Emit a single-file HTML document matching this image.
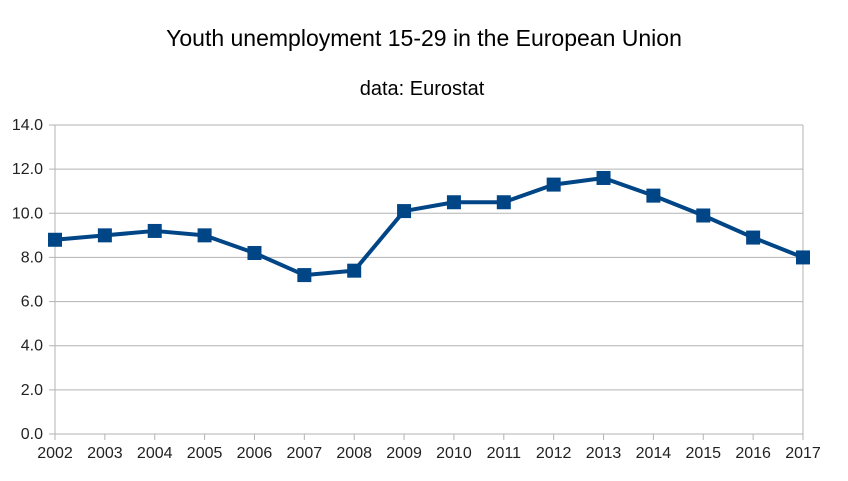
<!DOCTYPE html>
<html><head><meta charset="utf-8"><style>
body{margin:0;background:#fff;}
svg text{font-family:"Liberation Sans",sans-serif;fill:#000;}
.tk{font-family:"Liberation Sans Narrow","Liberation Sans",sans-serif;font-size:16px;fill:#222;}
</style></head><body>
<svg id="chart" width="848" height="476" xmlns="http://www.w3.org/2000/svg">
<text x="424" y="46" text-anchor="middle" font-size="23">Youth unemployment 15-29 in the European Union</text>
<text x="422" y="95" text-anchor="middle" font-size="20">data: Eurostat</text>
<g id="grid"></g><g id="series"></g>
</svg>
<script>
const years=["2002","2003","2004","2005","2006","2007","2008","2009","2010","2011","2012","2013","2014","2015","2016","2017"];
const values=[8.8,9.0,9.2,9.0,8.2,7.2,7.4,10.1,10.5,10.5,11.3,11.6,10.8,9.9,8.9,8.0];
const yTicks=[0,2,4,6,8,10,12,14];
const NS="http://www.w3.org/2000/svg";
const L=55,R=803,T=125,B=434;
const x=i=>L+(R-L)*i/(years.length-1);
const y=v=>B-(B-T)*v/14;
const grid=document.getElementById('grid'),ser=document.getElementById('series');
function mk(tag,attrs,parent){const e=document.createElementNS(NS,tag);for(const k in attrs)e.setAttribute(k,attrs[k]);parent.appendChild(e);return e;}
yTicks.forEach(v=>{
  const g=mk('line',{x1:L-6,x2:R,y1:y(v),y2:y(v),stroke:'#b3b3b3','stroke-width':1},grid);
  
  
  const t=mk('text',{x:L-12,y:y(v)+5,'text-anchor':'end',class:'tk'},grid);
  t.textContent=v.toFixed(1);
  
  
});
const ax=mk('line',{x1:L,x2:L,y1:T,y2:B+6,stroke:'#b3b3b3'},grid);


const ax2=mk('line',{x1:R,x2:R,y1:T,y2:B,stroke:'#b3b3b3'},grid);


years.forEach((yr,i)=>{
  if(i>0){const tk=mk('line',{x1:x(i),x2:x(i),y1:B,y2:B+6,stroke:'#b3b3b3'},grid);
  
  }
  const t=mk('text',{x:x(i),y:B+24,'text-anchor':'middle',class:'tk'},grid);
  t.textContent=yr;
  
  
});
const pl=mk('polyline',{points:values.map((v,i)=>x(i)+','+y(v)).join(' '),fill:'none',stroke:'#004586','stroke-width':4,'stroke-linejoin':'round'},ser);


values.forEach((v,i)=>{
  const m=mk('rect',{x:x(i)-7,y:y(v)-7,width:14,height:14,fill:'#004586'},ser);
  
  
});
</script>
</body></html>
